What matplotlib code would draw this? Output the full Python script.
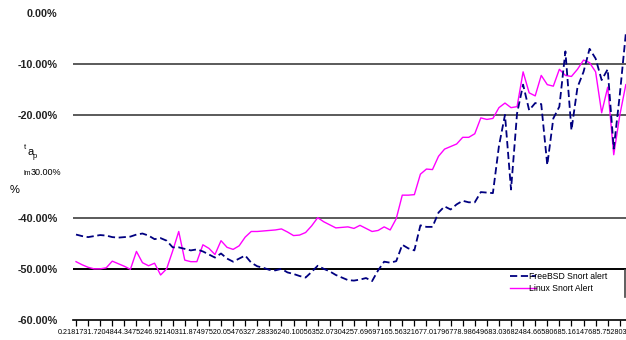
import numpy as np
import matplotlib.pyplot as plt
from matplotlib.lines import Line2D

plt.rcParams['font.family'] = ['Liberation Sans', 'DejaVu Sans']

# values, in percent
freebsd = [-43.3, -43.6, -43.8, -43.6, -43.4, -43.5, -43.8, -43.9, -43.8, -43.7,
           -43.3, -43.1, -43.5, -44.2, -44.0, -44.5, -45.8, -45.8, -46.1, -46.4,
           -46.2, -46.6, -47.2, -47.8, -47.0, -48.0, -48.6, -48.0, -47.4, -48.8,
           -49.5, -49.8, -50.2, -50.3, -50.0, -50.7, -51.0, -51.4, -51.7, -50.6,
           -49.4, -50.0, -50.5, -51.2, -51.7, -52.2, -52.3, -52.1, -51.8, -52.4,
           -50.3, -48.6, -48.8, -48.5, -45.3, -46.0, -46.4, -41.5, -41.8, -41.8,
           -39.0, -37.8, -38.4, -37.4, -36.7, -37.0, -37.0, -35.0, -35.1, -35.2,
           -26.0, -19.9, -34.5, -19.6, -14.0, -19.0, -17.6, -17.8, -29.7, -20.6,
           -18.3, -7.5, -22.9, -14.5, -11.5, -7.0, -8.9, -13.1, -11.0, -26.5,
           -16.0, -4.0]
linux = [-48.6, -49.2, -49.7, -50.0, -50.0, -49.8, -48.5, -49.0, -49.5, -50.1,
         -46.6, -48.8, -49.4, -48.9, -51.2, -50.0, -46.5, -42.7, -48.3, -48.6,
         -48.6, -45.3, -46.0, -47.2, -44.5, -45.8, -46.2, -45.5, -43.8, -42.7,
         -42.7, -42.6, -42.5, -42.4, -42.2, -42.8, -43.5, -43.4, -42.9, -41.6,
         -40.0, -40.8, -41.4, -42.0, -41.9, -41.8, -42.1, -41.5, -42.1, -42.7,
         -42.5, -41.8, -42.4, -40.2, -35.6, -35.6, -35.5, -31.5, -30.5, -30.6,
         -28.0, -26.6, -26.1, -25.6, -24.3, -24.3, -23.6, -20.5, -20.8, -20.6,
         -18.5, -17.6, -18.5, -18.3, -11.5, -15.6, -16.2, -12.2, -14.0, -14.3,
         -11.0, -12.2, -12.4, -11.0, -9.2, -9.7, -11.5, -19.5, -14.5, -27.7,
         -20.0, -14.0]
x_labels = ["0.218", "1731.72", "04844.34", "75246.92", "140311.87", "497520.05",
            "476327.28", "336240.10", "056352.07", "304257.69", "697165.56",
            "321677.01", "796778.98", "649683.03", "682484.66", "580685.16",
            "147685.75", "2803"]
y_ticks = [0, -10, -20, -40, -50, -60]
grid_levels = [-10, -20, -40, -50]

x = np.arange(len(freebsd))

fig = plt.figure(figsize=(6.26, 3.40), dpi=100)
ax = fig.add_axes([73/626, 20/340, 553/626, 307/340])

for g in grid_levels:
    ax.axhline(g, color='#000000' if g == -50 else '#5a5a5a', lw=1.4, zorder=1)

ax.plot(x, freebsd, color='#000080', lw=1.3, ls=(0, (4, 2)), label='FreeBSD Snort alert', zorder=3)
ax.plot(x, linux, color='#ff00ff', lw=1.0, label='Linux Snort Alert', zorder=2)

ax.set_xlim(-0.5, len(x) - 0.97)
ax.set_ylim(-60, 0)
for s in ['top', 'right', 'left']:
    ax.spines[s].set_visible(False)
ax.spines['bottom'].set_linewidth(1.2)

ax.set_xticks(x[::2])
ax.set_xticklabels([])
ax.tick_params(axis='x', length=4, width=0.9, direction='out')

ax.set_yticks(y_ticks)
ax.set_yticklabels(['%.2f%%' % v for v in y_ticks], fontsize=7.8,
                   fontweight='bold', color='#222222')
ax.tick_params(axis='y', length=0, pad=11)

# joined category labels, they overlap in the original
fig.text(342/626, 1 - 333/340, ''.join(x_labels), fontsize=5.2, ha='center', va='center')

# garbled axis title over the -30% label
fig.text(24/626, 1 - 149/340, 't', fontsize=5.5)
fig.text(27/626, 1 - 155/340, 'a', fontsize=8)
fig.text(33/626, 1 - 158/340, 'p', fontsize=5.5)
fig.text(23/626, 1 - 175/340, 'lm', fontsize=5)
fig.text(31/626, 1 - 175/340, '30.00%', fontsize=6.5)
fig.text(10/626, 1 - 193/340, '%', fontsize=8)

leg = ax.legend(loc='upper left', bbox_to_anchor=(510/626, 1 - 272/340),
                bbox_transform=fig.transFigure, frameon=False, fontsize=6.2,
                handlelength=3.0, handletextpad=-0.8, labelspacing=0.3,
                borderpad=0, borderaxespad=0)
fig.add_artist(Line2D([625/626, 625/626], [1 - 270/340, 1 - 297/340],
                      transform=fig.transFigure, color='#444444', lw=1.2))

fig.savefig('out.png', dpi=100)
